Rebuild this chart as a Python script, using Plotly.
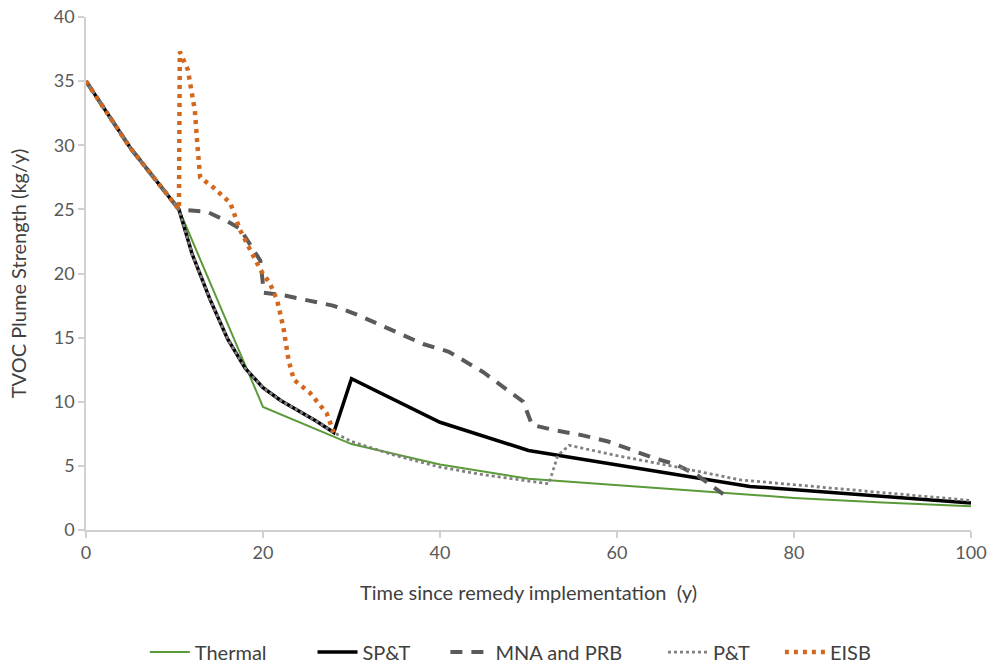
import plotly.graph_objects as go

# ---- data ----
thermal_x = [0, 5, 10.5, 20, 30, 40, 50, 60, 70, 75, 80, 90, 100]
thermal_y = [35, 29.8, 25, 9.6, 6.7, 5.1, 4.0, 3.5, 3.0, 2.7, 2.5, 2.15, 1.85]

spt_x = [0, 5, 10.5, 12, 14, 16, 18, 20, 22, 24, 26, 28, 30, 40, 50, 75, 100]
spt_y = [35, 29.8, 25, 21.5, 18.0, 14.9, 12.6, 11.1, 10.1, 9.3, 8.5, 7.6, 11.8, 8.4, 6.2, 3.4, 2.1]

mna_x = [0, 5, 10.5, 13.7, 15.9, 17.4, 19.7, 20.1, 22.3, 27.9, 30.6, 32.9, 38.1, 41, 44.9, 49.4, 50.4,
         52.8, 56, 59, 61.4, 64.2, 66.7, 69, 72]
mna_y = [35, 29.8, 25, 24.8, 24.1, 23.5, 21.0, 18.5, 18.3, 17.5, 16.8, 16.1, 14.5, 13.9, 12.3, 10.0, 8.2,
         7.8, 7.4, 6.9, 6.3, 5.6, 5.1, 4.3, 2.8]

pt_x = [0, 5, 10.5, 12, 14, 16, 18, 20, 22, 24, 26, 28, 30, 35, 40, 45, 50, 52.3, 53.3, 54.6, 60, 64.6,
        74, 100]
pt_y = [35, 29.8, 25, 21.5, 18.0, 14.9, 12.6, 11.1, 10.1, 9.3, 8.5, 7.6, 6.9, 5.8, 4.9, 4.3, 3.8, 3.6,
        5.8, 6.6, 5.8, 5.2, 3.9, 2.3]

eisb_x = [0, 5, 10.5, 10.5, 10.6, 11.5, 12.3, 12.6, 12.9, 14.4, 16.3, 17.4, 19.7, 20.8, 21.6, 22.3, 22.9,
          23.5, 25.3, 27.2, 28]
eisb_y = [35, 29.8, 25, 36.8, 37.3, 35.9, 32.7, 29.9, 27.5, 26.7, 25.5, 23.4, 20.3, 19.2, 17.9, 15.8,
          13.2, 11.7, 10.7, 9.1, 7.6]

x_ticks = [0, 20, 40, 60, 80, 100]
y_ticks = [0, 5, 10, 15, 20, 25, 30, 35, 40]

series_names = ["Thermal", "SP&T", "MNA and PRB", "P&T", "EISB"]
NB = "\u00a0"
# trailing non-breaking spaces widen the legend entries like in the reference
legend_pad = [8, 6, 7, 5, 0]

FONT = "Lato"

fig = go.Figure()
fig.add_trace(go.Scatter(x=thermal_x, y=thermal_y, mode="lines", name=series_names[0] + NB * legend_pad[0],
                         line=dict(color="#5B9A38", width=2)))
fig.add_trace(go.Scatter(x=spt_x, y=spt_y, mode="lines", name=series_names[1] + NB * legend_pad[1],
                         line=dict(color="#000000", width=3.5)))
fig.add_trace(go.Scatter(x=mna_x, y=mna_y, mode="lines", name=series_names[2] + NB * legend_pad[2],
                         line=dict(color="#5A5A5A", width=4, dash="12px,9px")))
fig.add_trace(go.Scatter(x=pt_x, y=pt_y, mode="lines", name=series_names[3] + NB * legend_pad[3],
                         line=dict(color="#808080", width=2.8, dash="3px,3px")))
fig.add_trace(go.Scatter(x=eisb_x, y=eisb_y, mode="lines", name=series_names[4] + NB * legend_pad[4],
                         line=dict(color="#D4671E", width=4.5, dash="4px,5px")))

axis_common = dict(showgrid=False, zeroline=False, showline=True, linecolor="#D0D0D0", linewidth=1.5,
                   ticks="outside", tickcolor="#D0D0D0", ticklen=6, tickwidth=1.5,
                   tickfont=dict(family=FONT, size=18, color="#595959"))

fig.update_xaxes(range=[0, 100], tickvals=x_ticks, **axis_common,
                 title=dict(text="Time since remedy implementation" + NB + NB + "(y)",
                            font=dict(family=FONT, size=20, color="#404040"), standoff=24))
fig.update_yaxes(range=[0, 40], tickvals=y_ticks, **axis_common,
                 title=dict(text="TVOC Plume Strength (kg/y)",
                            font=dict(family=FONT, size=20, color="#404040"), standoff=22))

fig.update_layout(
    width=994, height=664,
    margin=dict(l=86, r=23, t=17, b=134, autoexpand=False),
    plot_bgcolor="white", paper_bgcolor="white",
    font=dict(family=FONT, size=18, color="#404040"),
    legend=dict(orientation="h", x=0.48, xanchor="center", y=-0.238, yanchor="middle",
                font=dict(family=FONT, size=20, color="#404040"), itemwidth=40,
                tracegroupgap=0),
)

fig.write_html("out.html")
